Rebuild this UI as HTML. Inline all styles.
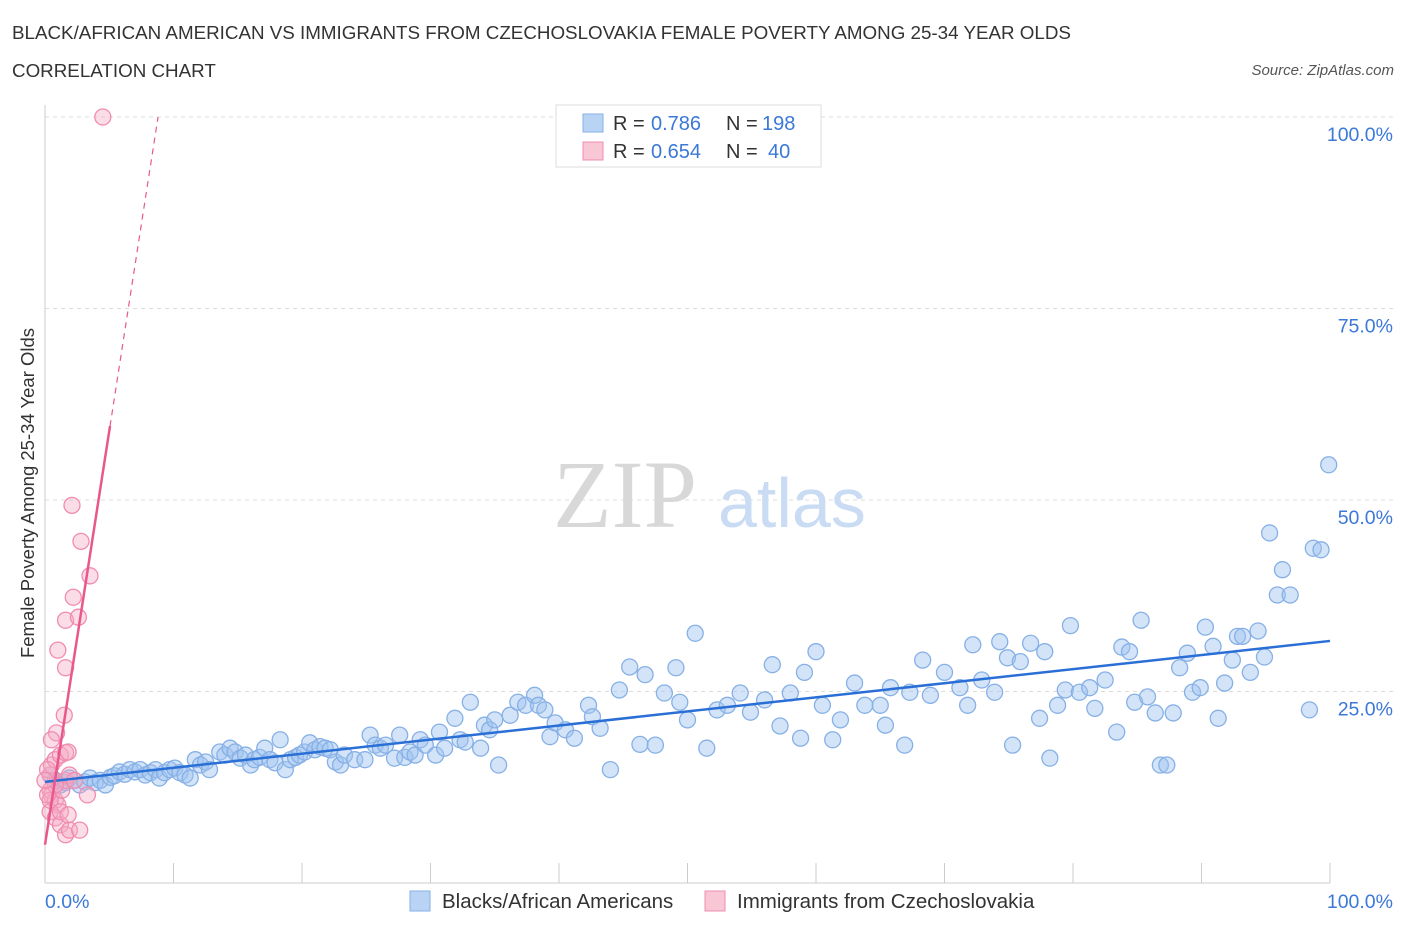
<!DOCTYPE html>
<html><head><meta charset="utf-8">
<style>
body{margin:0;background:#fff;font-family:"Liberation Sans",sans-serif;}
#wrap{position:relative;width:1406px;height:930px;overflow:hidden;}
.t{position:absolute;white-space:nowrap;}
</style></head>
<body>
<div id="wrap">
<div class="t" style="left:12px;top:22px;font-size:18.8px;color:#333;">BLACK/AFRICAN AMERICAN VS IMMIGRANTS FROM CZECHOSLOVAKIA FEMALE POVERTY AMONG 25-34 YEAR OLDS</div>
<div class="t" style="left:12px;top:60px;font-size:18.8px;color:#333;">CORRELATION CHART</div>
<div class="t" style="right:12px;top:62px;font-size:15px;color:#555;font-style:italic;">Source: ZipAtlas.com</div>
<svg id="chart" width="1406" height="930" style="position:absolute;left:0;top:0"></svg>
</div>
<script>
const blueX=[0.4,0.8,1.2,1.6,1.9,2.3,2.7,3.1,3.5,3.9,4.3,4.7,5.1,5.4,5.8,6.2,6.6,7.0,7.4,7.8,8.2,8.6,8.9,9.3,9.7,10.1,10.5,10.9,11.3,11.7,12.1,12.5,12.8,13.6,14.0,14.4,14.8,15.2,15.6,16.0,16.3,16.7,17.1,17.5,17.9,18.3,18.7,19.1,19.5,19.8,20.2,20.6,21.0,21.4,21.8,22.2,22.6,23.0,23.3,24.1,24.9,25.3,25.7,26.1,26.5,27.2,27.6,28.0,28.4,28.8,29.2,29.6,30.4,30.7,31.1,31.9,32.3,32.7,33.1,33.9,34.2,34.6,35.0,35.3,36.2,36.8,37.4,38.1,38.4,38.9,39.3,39.7,40.5,41.2,42.3,42.6,43.2,44.0,44.7,45.5,46.3,46.7,47.5,48.2,49.1,49.4,50.0,50.6,51.5,52.3,53.1,54.1,54.9,56.0,56.6,57.2,58.0,58.8,59.1,60.0,60.5,61.3,61.9,63.0,63.8,65.0,65.4,65.8,66.9,67.3,68.3,68.9,70.0,71.2,71.8,72.2,72.9,73.9,74.3,74.9,75.3,75.9,76.7,77.4,77.8,78.2,78.8,79.4,79.8,80.5,81.3,81.7,82.5,83.4,83.8,84.4,84.8,85.3,85.8,86.4,86.8,87.3,87.8,88.3,88.9,89.3,89.9,90.3,90.9,91.3,91.8,92.4,92.8,93.2,93.8,94.4,94.9,95.3,95.9,96.3,96.9,98.4,98.7,99.3,99.9];
const blueY=[14.1,13.4,12.8,13.1,13.7,13.4,12.8,13.2,13.7,13.1,13.4,12.8,13.8,14.0,14.5,14.2,14.8,14.5,14.8,14.1,14.4,14.8,13.7,14.4,14.8,15.0,14.4,14.1,13.7,16.1,15.4,15.8,14.8,17.1,16.7,17.6,17.1,16.3,16.7,15.4,16.1,16.4,17.6,16.1,15.7,18.7,14.8,16.1,16.4,16.7,17.1,18.3,17.4,17.8,17.6,17.4,15.8,15.4,16.7,16.1,16.1,19.3,18.0,17.6,18.0,16.3,19.3,16.4,17.1,16.7,18.7,18.0,16.7,19.7,17.6,21.5,18.7,18.4,23.6,17.6,20.6,20.0,21.3,15.4,21.9,23.6,23.2,24.5,23.2,22.6,19.1,20.9,20.0,18.9,23.2,21.7,20.2,14.8,25.2,28.2,18.1,27.2,18.0,24.8,28.1,23.6,21.3,32.6,17.6,22.6,23.2,24.8,22.3,23.9,28.5,20.5,24.8,18.9,27.5,30.2,23.2,18.7,21.3,26.1,23.2,23.2,20.6,25.5,18.0,24.9,29.1,24.5,27.5,25.5,23.2,31.1,26.5,24.9,31.5,29.4,18.0,28.9,31.3,21.5,30.2,16.3,23.2,25.2,33.6,24.9,25.5,22.8,26.5,19.7,30.8,30.2,23.6,34.3,24.3,22.2,15.4,15.4,22.2,28.1,30.0,24.9,25.5,33.4,30.9,21.5,26.1,29.1,32.2,32.2,27.5,32.9,29.5,45.7,37.6,40.9,37.6,22.6,43.7,43.5,54.6];
const pinkX=[0.4,0.5,0.8,0.2,0.4,0.5,0.8,1.0,0.4,0.8,1.2,1.6,1.9,2.7,1.3,1.6,1.9,2.3,3.3,1.2,1.6,1.8,0.9,1.5,1.0,1.6,2.2,2.6,3.5,2.8,2.1,1.6,0.4,0.8,0.2,0.0,1.2,1.8,4.5,0.5];
const pinkY=[14.1,15.4,16.1,14.8,12.1,11.5,10.8,10.2,9.3,8.5,7.6,6.3,6.9,6.9,12.1,13.4,14.1,13.4,11.5,16.7,17.0,17.1,19.6,21.9,30.4,34.3,37.3,34.7,40.1,44.6,49.3,28.1,10.8,12.8,11.5,13.4,9.3,8.9,100,18.7];
const blueTrend=[13.2,31.6];      // y at x=0, x=100
const pinkTrend=[5.0,10.8];       // intercept, slope
const yTicks=[25,50,75,100];
const xTickLabels=["0.0%","100.0%"];

const X0=45,X1=1330,Y0=883,Y100=117;
const sx=v=>X0+(X1-X0)*v/100;
const sy=v=>Y0-(Y0-Y100)*v/100;
const svg=document.getElementById('chart');
const NS='http://www.w3.org/2000/svg';
const FF='Liberation Sans, sans-serif';
function mk(tag,attrs,parent){const e=document.createElementNS(NS,tag);for(const k in attrs)e.setAttribute(k,attrs[k]);(parent||svg).appendChild(e);return e;}

yTicks.forEach(v=>{
  const g=mk('line',{x1:X0,x2:X1+65,y1:sy(v),y2:sy(v),stroke:'#dcdcdc','stroke-dasharray':'4,4'});
  
  
  const t=mk('text',{x:1393,y:sy(v)+24,'text-anchor':'end','font-size':19.5,fill:'#3b78d8','font-family':FF});
  t.textContent=v.toFixed(1)+'%';
  
  
});
let a=mk('line',{x1:X0,x2:X0,y1:105,y2:Y0,stroke:'#ccc'});


a=mk('line',{x1:X0,x2:X1,y1:Y0,y2:Y0,stroke:'#ccc'});


for(let i=0;i<=10;i++){
  const tk=mk('line',{x1:sx(i*10),x2:sx(i*10),y1:Y0-20,y2:Y0,stroke:'#ccc'});
  
  
}
let xt=mk('text',{x:45,y:908,'font-size':19.5,fill:'#3b78d8','font-family':FF});
xt.textContent=xTickLabels[0];


xt=mk('text',{x:1393,y:908,'text-anchor':'end','font-size':19.5,fill:'#3b78d8','font-family':FF});
xt.textContent=xTickLabels[1];


let yt=mk('text',{transform:'translate(34,493) rotate(-90)','text-anchor':'middle','font-size':18.5,fill:'#333','font-family':FF});
yt.textContent='Female Poverty Among 25-34 Year Olds';


let w=mk('text',{x:553,y:527,'font-size':96,fill:'#d8d8d8','font-family':'Liberation Serif, serif'});
w.textContent='ZIP';


w=mk('text',{x:718,y:527,'font-size':70,fill:'#c9dcf3','font-family':FF});
w.textContent='atlas';


blueX.forEach((x,i)=>{
  const c=mk('circle',{cx:sx(x),cy:sy(blueY[i]),r:8,fill:'rgba(160,195,240,0.45)',stroke:'#86b0e6','stroke-width':1.3});
  
  
});
pinkX.forEach((x,i)=>{
  const c=mk('circle',{cx:sx(x),cy:sy(pinkY[i]),r:8,fill:'rgba(245,170,195,0.4)',stroke:'#f08cb0','stroke-width':1.3});
  
  
});
let l=mk('line',{x1:sx(0),y1:sy(blueTrend[0]),x2:sx(100),y2:sy(blueTrend[1]),stroke:'#2a6fd6','stroke-width':2.5});


const pxEnd=5.06, pxTop=(100-pinkTrend[0])/pinkTrend[1];
l=mk('line',{x1:sx(0),y1:sy(pinkTrend[0]),x2:sx(pxEnd),y2:sy(pinkTrend[0]+pinkTrend[1]*pxEnd),stroke:'#e8588c','stroke-width':2.5});


l=mk('line',{x1:sx(pxEnd),y1:sy(pinkTrend[0]+pinkTrend[1]*pxEnd),x2:sx(pxTop),y2:sy(100),stroke:'#e8588c','stroke-width':1.2,'stroke-dasharray':'6,5'});



let lb=mk('rect',{x:556,y:105,width:265,height:62,fill:'#fff',stroke:'#ddd'});


[['#b9d3f5','#86b0e6','0.786','198',123,762],['#f9c6d6','#f08cb0','0.654','40',151,768]].forEach(r=>{
  const s=mk('rect',{x:583,y:r[4]-9,width:20,height:18,fill:r[0],stroke:r[1]});
  
  
  [[613,'R =','#333'],[651,r[2],'#3b78d8'],[726,'N =','#333'],[r[5],r[3],'#3b78d8']].forEach(p=>{
    const t=mk('text',{x:p[0],y:r[4]+7,'font-size':20,fill:p[2],'font-family':FF});
    t.textContent=p[1];
    
    
  });
});
[[410,'#b9d3f5','#86b0e6','Blacks/African Americans','legend-blacks'],[705,'#f9c6d6','#f08cb0','Immigrants from Czechoslovakia','legend-czech']].forEach(r=>{
  const s=mk('rect',{x:r[0],y:891,width:20,height:20,fill:r[1],stroke:r[2]});
  
  
  const t=mk('text',{x:r[0]+32,y:908,'font-size':20.5,fill:'#333','font-family':FF});
  t.textContent=r[3];
  
  
});
</script>
</body></html>
